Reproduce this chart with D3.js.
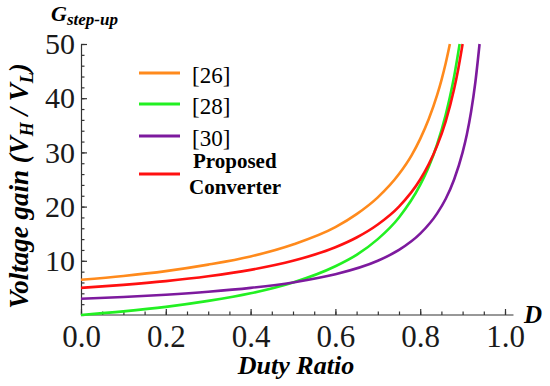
<!doctype html>
<html>
<head>
<meta charset="UTF-8">
<script src="https://d3js.org/d3.v7.min.js"></script>
<style>
body { margin: 0; background: #fff; }
svg { display: block; }
svg text { font-family: "Liberation Serif", "Times New Roman", Times, serif; }
.axis path, .axis line { stroke: #333; stroke-width: 1.2; }
.axis text { fill: #1a1a1a; }
</style>
</head>
<body>
<script>
// values (duty ratio D -> voltage gain)
var dutyRef26 = [0, 0.1, 0.2, 0.3, 0.4, 0.5, 0.6, 0.65, 0.7, 0.75, 0.78, 0.8, 0.82, 0.84, 0.85, 0.86, 0.87];
var gainRef26 = [6.5, 7.2, 8.1, 9.3, 10.8, 13.0, 16.2, 18.6, 21.7, 26.0, 29.5, 32.5, 36.1, 40.6, 43.3, 46.4, 50];

var dutyRef28 = [0, 0.1, 0.2, 0.3, 0.4, 0.5, 0.6, 0.65, 0.7, 0.75, 0.8, 0.82, 0.84, 0.86, 0.87, 0.88, 0.893];
var gainRef28 = [0, 0.67, 1.5, 2.6, 4.0, 6.0, 9.0, 11.1, 14.0, 18.0, 24.0, 27.3, 31.5, 36.9, 40.2, 44.0, 50];

var dutyRef30 = [0, 0.1, 0.2, 0.3, 0.4, 0.5, 0.6, 0.7, 0.75, 0.8, 0.84, 0.86, 0.88, 0.9, 0.91, 0.92, 0.93, 0.94];
var gainRef30 = [3, 3.33, 3.75, 4.29, 5.0, 6.0, 7.5, 10.0, 12.0, 15.0, 18.75, 21.4, 25.0, 30.0, 33.3, 37.5, 42.9, 50];

var dutyProp = [0, 0.1, 0.2, 0.3, 0.4, 0.5, 0.6, 0.65, 0.7, 0.75, 0.8, 0.82, 0.84, 0.86, 0.88, 0.89, 0.9];
var gainProp = [5, 5.56, 6.25, 7.14, 8.33, 10.0, 12.5, 14.3, 16.7, 20.0, 25.0, 27.8, 31.25, 35.7, 41.7, 45.5, 50];

var legendNames = ["[26]", "[28]", "[30]", "Proposed Converter"];
var xTicks = [0, 0.2, 0.4, 0.6, 0.8, 1.0];
var yTicks = [10, 20, 30, 40, 50];

var series = [
  { name: legendNames[0], color: "#ff8a1c", d: dutyRef26, g: gainRef26 },
  { name: legendNames[1], color: "#22f022", d: dutyRef28, g: gainRef28 },
  { name: legendNames[2], color: "#7d1a9e", d: dutyRef30, g: gainRef30 },
  { name: legendNames[3], color: "#ff1010", d: dutyProp, g: gainProp }
];

var w = 550, h = 386;
var serif = "'Liberation Serif', 'Times New Roman', Times, serif";

var svg = d3.select("body").append("svg")
    .attr("width", w)
    .attr("height", h);

var x = d3.scaleLinear().domain([0, 1]).range([81, 505]);
var y = d3.scaleLinear().domain([0, 50]).range([315, 44]);

// minor ticks first, pointing inward
svg.append("g")
    .attr("class", "axis")
    .attr("transform", "translate(0," + y(0) + ")")
    .call(d3.axisBottom(x).tickValues(d3.range(0, 1.001, 0.05)).tickSize(-3.5).tickSizeOuter(0).tickFormat(""))
    .select(".domain").remove();
svg.append("g")
    .attr("class", "axis")
    .attr("transform", "translate(" + x(0) + ",0)")
    .call(d3.axisLeft(y).tickValues(d3.range(0, 50.1, 2)).tickSize(-3.5).tickSizeOuter(0).tickFormat(""))
    .select(".domain").remove();

// major axes
var xAxis = svg.append("g")
    .attr("class", "axis")
    .attr("transform", "translate(0," + y(0) + ")")
    .call(d3.axisBottom(x).tickValues(xTicks).tickSizeInner(-6).tickSizeOuter(0).tickPadding(10)
        .tickFormat(d3.format(".1f")));
xAxis.attr("font-family", serif);
xAxis.select(".domain").attr("d", "M" + x(0) + ",0H" + x(1.02));
xAxis.selectAll("text").style("font-size", "31px").style("font-family", serif);

var yAxis = svg.append("g")
    .attr("class", "axis")
    .attr("transform", "translate(" + x(0) + ",0)")
    .call(d3.axisLeft(y).tickValues(yTicks).tickSizeInner(-6).tickSizeOuter(0).tickPadding(6));
yAxis.attr("font-family", serif);
yAxis.selectAll("text").style("font-size", "30px").style("font-family", serif);

// curves
var line = d3.line()
    .x(function(p) { return x(p[0]); })
    .y(function(p) { return y(p[1]); })
    .curve(d3.curveMonotoneX);

svg.append("g").selectAll("path")
    .data(series)
    .enter().append("path")
    .attr("d", function(s) { return line(d3.zip(s.d, s.g)); })
    .attr("fill", "none")
    .attr("stroke", function(s) { return s.color; })
    .attr("stroke-width", 2.6);

// legend
var legendY = [73, 104, 136, 174];
var legend = svg.append("g");
series.forEach(function(s, i) {
  legend.append("line")
      .attr("x1", 139).attr("x2", 180)
      .attr("y1", legendY[i]).attr("y2", legendY[i])
      .attr("stroke", s.color)
      .attr("stroke-width", 2.8);
  if (i < 3) {
    legend.append("text")
        .attr("x", 192).attr("y", legendY[i] + 10)
        .style("font-family", serif)
        .style("font-size", "23px")
        .text(s.name);
  } else {
    var t = legend.append("text")
        .style("font-family", serif)
        .style("font-size", "21px")
        .style("font-weight", "bold");
    var parts = s.name.split(" ");
    t.append("tspan").attr("x", 193).attr("y", 168).text(parts[0]);
    t.append("tspan").attr("x", 189).attr("y", 194).text(parts[1]);
  }
});

// titles
var title = svg.append("text")
    .attr("x", 51).attr("y", 21)
    .style("font-family", serif)
    .style("font-weight", "bold").style("font-style", "italic")
    .style("font-size", "22px");
title.append("tspan").text("G");
title.append("tspan").attr("dy", 4).style("font-size", "17px").text("step-up");

svg.append("text")
    .attr("x", 296).attr("y", 374)
    .attr("text-anchor", "middle")
    .style("font-family", serif)
    .style("font-weight", "bold").style("font-style", "italic")
    .style("font-size", "26px")
    .text("Duty Ratio");

svg.append("text")
    .attr("x", 524).attr("y", 323)
    .style("font-family", serif)
    .style("font-weight", "bold").style("font-style", "italic")
    .style("font-size", "25px")
    .text("D");

var ylab = svg.append("text")
    .attr("transform", "translate(28,186) rotate(-90)")
    .attr("text-anchor", "middle")
    .style("font-family", serif)
    .style("font-weight", "bold").style("font-style", "italic")
    .style("font-size", "27px");
ylab.append("tspan").text("Voltage gain (V");
ylab.append("tspan").attr("dy", 5).style("font-size", "18px").text("H");
ylab.append("tspan").attr("dy", -5).text(" / V");
ylab.append("tspan").attr("dy", 5).style("font-size", "18px").text("L");
ylab.append("tspan").attr("dy", -5).text(")");
</script>
</body>
</html>
